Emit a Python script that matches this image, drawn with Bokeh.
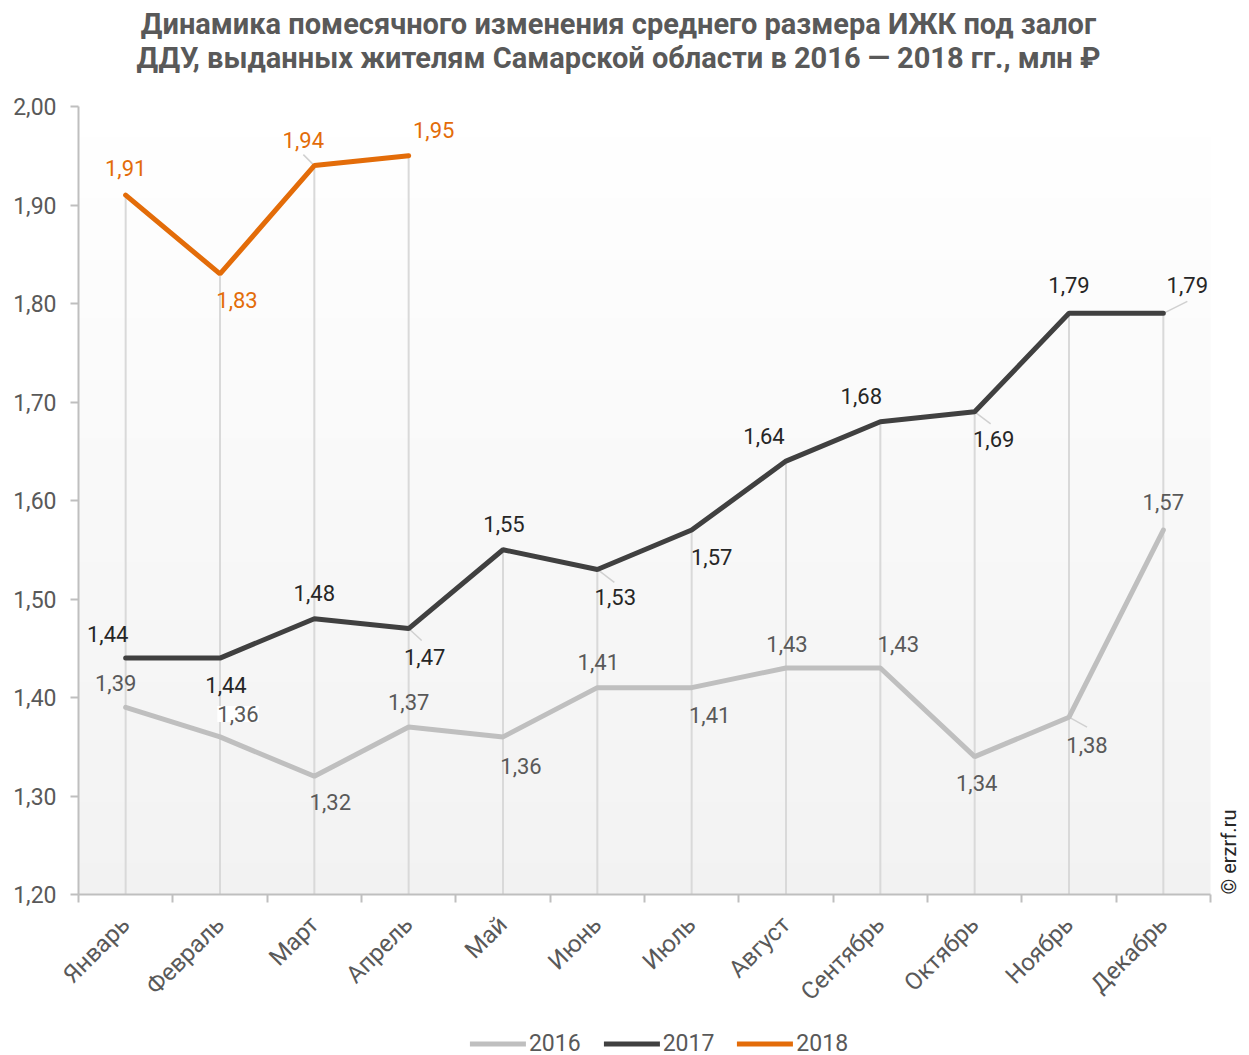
import numpy as np
from bokeh.plotting import figure
from bokeh.layouts import column
from bokeh.models import (ColumnDataSource, FixedTicker, CustomJSTickFormatter, Range1d,
                          Legend, LegendItem)
from bokeh.core.properties import value
from bokeh.embed import file_html
from bokeh.resources import INLINE

months = ["Январь", "Февраль", "Март", "Апрель", "Май", "Июнь", "Июль",
          "Август", "Сентябрь", "Октябрь", "Ноябрь", "Декабрь"]
v2016 = [1.39, 1.36, 1.32, 1.37, 1.36, 1.41, 1.41, 1.43, 1.43, 1.34, 1.38, 1.57]
v2017 = [1.44, 1.44, 1.48, 1.47, 1.55, 1.53, 1.57, 1.64, 1.68, 1.69, 1.79, 1.79]
v2018 = [1.91, 1.83, 1.94, 1.95]
y_ticks = [1.2, 1.3, 1.4, 1.5, 1.6, 1.7, 1.8, 1.9, 2.0]
years = ["2016", "2017", "2018"]
title_lines = ["Динамика помесячного изменения среднего размера ИЖК под залог",
               "ДДУ, выданных жителям Самарской области в 2016 — 2018 гг., млн ₽"]
credit = "© erzrf.ru"

# label offsets in pixels (style)
off2016 = [(-10, -24), (18, -23), (16, 26), (0, -25), (18, 29), (1, -26), (18, 27),
           (1, -24), (18, -24), (2, 26), (18, 28), (0, -28)]
off2017 = [(-18, -24), (6, 27), (0, -26), (16, 28), (1, -26), (18, 28), (20, 27),
           (-22, -25), (-19, -26), (19, 27), (0, -28), (24, -28)]
off2018 = [(0, -27), (17, 26), (-11, -26), (25, -26)]
bg2016 = [0, 1, 0, 0, 0, 0, 0, 0, 0, 0, 0, 0]   # white box behind a label
# leader lines (series, month index, dx px, dy px)
leaders = [(2016, 10, 18, 10), (2017, 3, 13, 12), (2017, 5, 17, 13), (2017, 9, 16, 12),
           (2017, 11, 24, -12), (2018, 2, -11, -11)]

C16, C17, C18 = "#bfbfbf", "#404040", "#e36c09"
T16, T17, T18 = "#595959", "#262626", "#e36c09"
FONT = "Roboto"

# layout (pixels)
FL = 78                     # left border
TOP = 106                   # space above the 2,00 line (title area, inside frame)
pxx = 1132 / 12.0           # pixels per month
pxy = 788 / 0.8             # pixels per unit
extra = 30                  # room on the right for the credit text
fw, fh = 1132 + extra, 788 + TOP
xmax = 12 + extra / pxx
ymax = 2.0 + TOP / pxy
W = FL + fw + 1

p = figure(frame_width=fw, frame_height=fh, output_backend="svg", toolbar_location=None,
           x_range=Range1d(0, xmax), y_range=Range1d(1.2, ymax),
           min_border_left=FL, min_border_right=1, min_border_top=0,
           min_border_bottom=0)
p.outline_line_color = None
p.xgrid.visible = False
p.ygrid.visible = False
p.background_fill_color = "white"
p.border_fill_color = "white"

# gradient background over the plotting area
n = 256
grad = np.zeros((n, 1), dtype=np.uint32)
view = grad.view(dtype=np.uint8).reshape((n, 1, 4))
for i in range(n):
    t = i / (n - 1)  # 0 bottom -> 1 top
    c = int(round(242 + (255 - 242) * t))
    view[i, 0] = [c, c, c, 255]
p.image_rgba(image=[grad], x=0, y=1.2, dw=12, dh=0.8, level="image")

xc = [i + 0.5 for i in range(12)]

# drop lines
tops = []
for i in range(12):
    vals = [v2016[i], v2017[i]] + ([v2018[i]] if i < len(v2018) else [])
    tops.append(max(vals))
p.segment(x0=xc, y0=[1.2] * 12, x1=xc, y1=tops, line_color="#d9d9d9", line_width=2)

# leader lines
series = {2016: v2016, 2017: v2017, 2018: v2018}
lx0, ly0, lx1, ly1 = [], [], [], []
for s, i, dx, dy in leaders:
    lx0.append(xc[i]); ly0.append(series[s][i])
    lx1.append(xc[i] + dx / pxx); ly1.append(series[s][i] - dy / pxy)
p.segment(x0=lx0, y0=ly0, x1=lx1, y1=ly1, line_color="#d0d0d0", line_width=1.5)

p.line(xc, v2016, line_color=C16, line_width=5, line_cap="round")
p.line(xc, v2017, line_color=C17, line_width=5, line_cap="round")
p.line(xc[:len(v2018)], v2018, line_color=C18, line_width=5, line_cap="round")


def fmt(v):
    return f"{v:.2f}".replace(".", ",")


def add_labels(vals, offs, color, bg=None):
    src = ColumnDataSource(dict(x=xc[:len(vals)], y=vals, t=[fmt(v) for v in vals],
                                dx=[o[0] for o in offs], dy=[o[1] for o in offs],
                                bga=bg if bg is not None else [0] * len(vals)))
    p.text(x="x", y="y", text="t", x_offset="dx", y_offset="dy", source=src,
           text_font=value(FONT), text_font_size="22px", text_color=color,
           text_align="center", text_baseline="middle",
           background_fill_color="white", background_fill_alpha="bga")


add_labels(v2016, off2016, T16, bg2016)
add_labels(v2017, off2017, T17)
add_labels(v2018, off2018, T18)

# title (two centred lines in the white band above the plot)
title_cx = (618 - FL) / pxx
title_y = [2.0 + (TOP - 23) / pxy, 2.0 + (TOP - 57) / pxy]
p.text(x=[title_cx] * 2, y=title_y, text=title_lines, text_font=value(FONT),
       text_font_size="29px", text_font_style="bold", text_color=T16,
       text_align="center", text_baseline="middle")

# credit text (rotated), just right of the plotting area
p.text(x=[12 + 18 / pxx], y=[1.2], text=[credit], angle=np.pi / 2,
       text_font=value(FONT), text_font_size="20px", text_color="#262626",
       text_align="left", text_baseline="middle")

# axes
p.yaxis.bounds = (1.2, 2.0)
p.yaxis.ticker = FixedTicker(ticks=y_ticks)
p.yaxis.formatter = CustomJSTickFormatter(code="return tick.toFixed(2).replace('.', ',');")
p.yaxis.major_tick_in = 0
p.yaxis.major_tick_out = 8
p.yaxis.minor_tick_line_color = None
p.yaxis.axis_line_color = "#bfbfbf"
p.yaxis.axis_line_width = 2
p.yaxis.major_tick_line_color = "#bfbfbf"
p.yaxis.major_tick_line_width = 2
p.yaxis.major_label_text_font = FONT
p.yaxis.major_label_text_font_size = "23px"
p.yaxis.major_label_text_color = T16
p.yaxis.major_label_standoff = 14

p.xaxis.bounds = (0, 12)
p.xaxis.ticker = FixedTicker(ticks=xc, minor_ticks=list(range(13)))
p.xaxis.formatter = CustomJSTickFormatter(args=dict(m=months),
                                          code="return m[Math.floor(tick)];")
p.xaxis.major_tick_in = 0
p.xaxis.major_tick_out = 0
p.xaxis.minor_tick_in = 0
p.xaxis.minor_tick_out = 8
p.xaxis.minor_tick_line_color = "#bfbfbf"
p.xaxis.minor_tick_line_width = 2
p.xaxis.axis_line_color = "#bfbfbf"
p.xaxis.axis_line_width = 2
p.xaxis.major_label_orientation = np.pi / 4
p.xaxis.major_label_text_font = FONT
p.xaxis.major_label_text_font_size = "24px"
p.xaxis.major_label_text_color = T16
p.xaxis.major_label_standoff = 18

# legend in a strip below the chart (its sample lines lie outside the strip's view)
q = figure(width=W, height=50, output_backend="svg", toolbar_location=None,
           x_range=Range1d(0, 1), y_range=Range1d(0, 1), x_axis_location=None,
           y_axis_location=None, min_border=0)
q.outline_line_color = None
q.xgrid.visible = False
q.ygrid.visible = False
items = []
for yr, col in zip(years, [C16, C17, C18]):
    r = q.line(x=[5, 6], y=[5, 5], line_color=col, line_width=5, line_cap="round")
    items.append(LegendItem(label=yr, renderers=[r]))
legend = Legend(items=items, orientation="horizontal", location="center",
                label_text_font=FONT, label_text_font_size="23px",
                label_text_color=T16, glyph_width=56, glyph_height=16,
                label_height=16, label_standoff=3, spacing=23, border_line_color=None,
                background_fill_alpha=0, margin=0, padding=0)
q.add_layout(legend, "center")

layout = column(p, q, spacing=0)
open("out.html", "w").write(file_html(layout, INLINE))
